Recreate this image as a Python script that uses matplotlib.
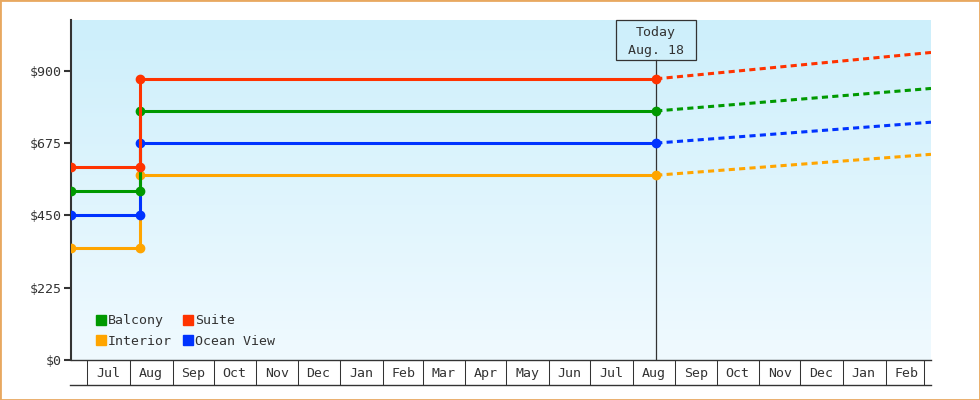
import numpy as np
import matplotlib
matplotlib.use("Agg")
import matplotlib.pyplot as plt
import matplotlib.dates as mdates
from matplotlib.colors import LinearSegmentedColormap
from matplotlib.lines import Line2D
from matplotlib.patches import Rectangle
from matplotlib.ticker import NullFormatter
from datetime import date

plt.rcParams["font.family"] = ["DejaVu Sans Mono"]
plt.rcParams["font.size"] = 9.5

# dates on the timeline
start_date = date(2023, 6, 19)
change_date = date(2023, 8, 8)
today = date(2024, 8, 18)
end_date = date(2025, 3, 6)

# cabin prices (drawing order: bottom to top)
cabins = ["Interior", "Ocean View", "Balcony", "Suite"]
old_prices = [350, 450, 525, 600]
new_prices = [575, 675, 775, 875]
projected_prices = [640, 740, 845, 957]
colors = ["#ffa500", "#0033ff", "#009900", "#ff3300"]

legend_order = ["Balcony", "Interior", "Suite", "Ocean View"]

y_ticks = [0, 225, 450, 675, 900]
y_max = 1058

ink = "#333333"

fig = plt.figure(figsize=(9.8, 4), dpi=100)
ax = fig.add_axes([71 / 980, 40 / 400, 860 / 980, 340 / 400])

x0 = mdates.date2num(start_date)
x1 = mdates.date2num(end_date)
t_chg = mdates.date2num(change_date)
t_now = mdates.date2num(today)

# background gradient
grad = np.linspace(0, 1, 256).reshape(-1, 1)
cmap = LinearSegmentedColormap.from_list("bg", ["#cdeffb", "#f0faff"])
ax.imshow(grad, cmap=cmap, aspect="auto", extent=(x0, x1, 0, y_max),
          origin="upper", zorder=0, interpolation="bilinear")

# today marker line
box_w = 80 / 860
box_h = 40 / 340
ax.axvline(t_now, ymin=0, ymax=1 - box_h, color=ink, lw=0.9, zorder=2.5)

for name, old, new, proj, c in zip(cabins, old_prices, new_prices, projected_prices, colors):
    ax.plot([x0, t_chg, t_chg, t_now], [old, old, new, new], color=c, lw=2.2,
            marker="o", ms=6, zorder=3, solid_joinstyle="miter")
    ax.plot([t_now, x1], [new, proj], color=c, lw=2.2, ls=(0, (2, 1.4)), zorder=3)

ax.set_xlim(x0, x1)
ax.set_ylim(0, y_max)
ax.xaxis_date()

# today box
xf = (t_now - x0) / (x1 - x0)
ax.add_patch(Rectangle((xf - box_w / 2, 1 - box_h), box_w, box_h, transform=ax.transAxes,
                       fill=False, ec=ink, lw=0.9, zorder=5, clip_on=False))
ax.text(xf, 1 - box_h / 2 - 0.004, "Today\n" + today.strftime("%b. %d"), transform=ax.transAxes,
        ha="center", va="center", color=ink, linespacing=1.45, zorder=6)

# axes styling
for s in ["top", "right"]:
    ax.spines[s].set_visible(False)
ax.spines["left"].set_linewidth(1.5)
ax.spines["left"].set_color(ink)
ax.spines["bottom"].set_linewidth(1.0)
ax.spines["bottom"].set_color(ink)

ax.set_yticks(y_ticks, labels=[f"${v}" for v in y_ticks])
ax.tick_params(axis="y", length=5, width=1.5, color=ink, pad=1.5, labelcolor=ink)

ax.xaxis.set_major_locator(mdates.MonthLocator())
ax.xaxis.set_major_formatter(NullFormatter())
ax.xaxis.set_minor_locator(mdates.MonthLocator(bymonthday=16))
ax.xaxis.set_minor_formatter(mdates.DateFormatter("%b"))
ax.tick_params(axis="x", which="major", length=18, width=0.75, color=ink, direction="out")
ax.tick_params(axis="x", which="minor", length=0, pad=5, labelcolor=ink)

# bottom line of month boxes
ax.plot([-1 / 860, 1], [-25 / 340, -25 / 340], transform=ax.transAxes, clip_on=False,
        color=ink, lw=1.0)

# legend
handles = []
for name in legend_order:
    c = colors[cabins.index(name)]
    handles.append(Line2D([], [], ls="none", marker="s", ms=7.5, color=c, label=name))
ax.legend(handles=handles, ncol=2, loc="lower left", bbox_to_anchor=(0.021, 0.017),
          frameon=False, borderpad=0, handlelength=0.8, handletextpad=0.15,
          columnspacing=0.8, labelspacing=0.55, labelcolor=ink)

# outer border
fig.patches.append(Rectangle((0, 0), 1, 1, transform=fig.transFigure, fill=False,
                             ec="#e8a860", lw=2))

fig.savefig("out.png", dpi=100)
